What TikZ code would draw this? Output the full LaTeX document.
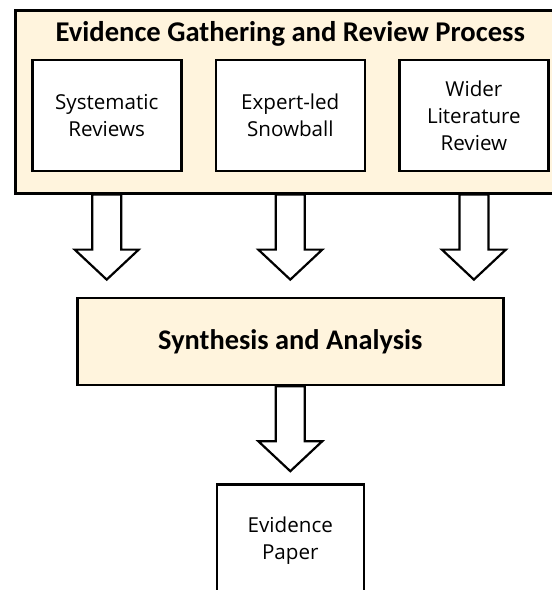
\documentclass[tikz,border=0pt]{standalone}
\usepackage{fontspec}
\setmainfont{Open Sans}
\newfontfamily\headfont{Carlito}
\usepackage{tikz}
\usetikzlibrary{positioning,calc,backgrounds}
\definecolor{boxcream}{RGB}{255,244,221}

\begin{document}
\begin{tikzpicture}[
  x=1pt, y=1pt,
  node distance=32pt,
  group/.style={rectangle, draw=black, line width=2.6pt, fill=boxcream,
                minimum width=550pt, minimum height=183pt, inner sep=0pt},
  source/.style={rectangle, draw=black, line width=2.6pt, fill=white, align=center,
                 minimum width=149pt, minimum height=111pt, inner sep=0pt,
                 font=\fontsize{20.6}{27}\selectfont},
  heading/.style={font=\headfont\bfseries\fontsize{28.6}{32}\selectfont},
  synth/.style={rectangle, draw=black, line width=2.6pt, fill=boxcream,
                minimum width=426pt, minimum height=87pt, inner sep=0pt,
                font=\headfont\bfseries\fontsize{28.4}{32}\selectfont},
  paper/.style={source, minimum width=147pt, minimum height=112pt},
  blockarr/.style={draw=black, line width=2.2pt, fill=white,
    to path={let \p1=(\tikztostart), \p2=(\tikztotarget) in
      (\x1-14.5pt,\y1) -- (\x1-14.5pt,\y2+30pt) -- (\x1-32pt,\y2+30pt) -- (\x2,\y2)
      -- (\x1+32pt,\y2+30pt) -- (\x1+14.5pt,\y2+30pt) -- (\x1+14.5pt,\y1) -- cycle}},
]
\useasboundingbox (0,0) rectangle (552,-590);

\node[group, anchor=north west] (eg) at (14,-9) {};
\node[heading, anchor=base] (t) at ($(eg.north)+(0,-32)$) {Evidence Gathering and Review Process};
\node[source] (es) at ($(eg.north)+(0,-106.5)$) {Expert-led\\Snowball};
\node[source, left=of es] (sr) {Systematic\\Reviews};
\node[source, right=of es] (wl) {Wider\\Literature\\Review};

\node[synth, below=102pt of eg] (sa) {Synthesis and Analysis};
\node[paper, below=97pt of sa] (ep) {Evidence\\Paper};

\begin{scope}[on background layer]
\draw[blockarr] (sr.south |- eg.south) to ($(sr.south |- sa.north)+(0,17)$);
\draw[blockarr] (es.south |- eg.south) to ($(es.south |- sa.north)+(0,17)$);
\draw[blockarr] (wl.south |- eg.south) to ($(wl.south |- sa.north)+(0,17)$);
\draw[blockarr] (sa.south) to ($(ep.north)+(0,12)$);
\end{scope}
\end{tikzpicture}
\end{document}
